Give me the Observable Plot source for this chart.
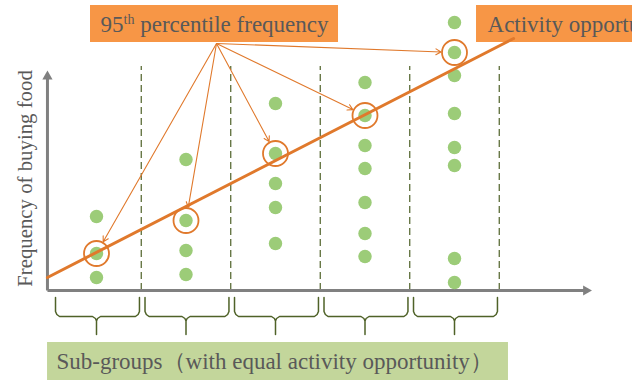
<!DOCTYPE html>
<html>
<head>
<meta charset="utf-8">
<script src="https://cdn.jsdelivr.net/npm/d3@7"></script>
<script src="https://cdn.jsdelivr.net/npm/@observablehq/plot@0.6"></script>
<style>
  html, body { margin: 0; padding: 0; background: #ffffff; }
  #chart svg { display: block; }
  #chart svg text { font-family: "Liberation Serif", "DejaVu Serif", serif !important; }
</style>
</head>
<body>
<div id="chart"></div>
<script>
// ---- data (schematic units: x = activity-opportunity sub-group, y = frequency of buying food)
const groups = [1, 2, 3, 4, 5];
const frequencies = [
  [2.96, 1.48, 0.52],
  [5.24, 2.8, 1.6, 0.64],
  [7.48, 5.48, 4.28, 3.32, 1.88],
  [8.32, 7.0, 5.8, 4.88, 3.52, 2.28, 1.36],
  [10.72, 9.52, 8.6, 7.08, 5.72, 5.0, 1.28, 0.32]
];
const percentile95 = [1.48, 2.8, 5.48, 7.0, 9.52];
const trendX = [0.452, 5.66];
const trendY = [0.52, 10.08];
const groupBoundaries = [1.5, 2.5, 3.5, 4.5, 5.5];
const labelTop = "95th percentile frequency";
const labelRight = "Activity opportunity";
const labelBottom = "Sub-groups（with equal activity opportunity）";
const labelY = "Frequency of buying food";

// ---- styles
const ORANGE_BOX = "#f79646";
const ORANGE_LINE = "#e0792c";
const GREEN_DOT = "#9ccc78";
const GREEN_BOX = "#c3d69b";
const OLIVE = "#4f6228";
const AXIS = "#808080";
const TEXT = "#595959";
const SERIF = "Liberation Serif, DejaVu Serif, serif";

// ---- derived tables
const points = groups.flatMap((g, i) => frequencies[i].map(f => ({g, f})));
const highlights = groups.map((g, i) => ({g, f: percentile95[i]}));
const trend = trendX.map((x, i) => ({x, y: trendY[i]}));
const source = {g: 2.341, f: 9.88};
const arrows = highlights.map(d => ({x1: source.g, y1: source.f, x2: d.g, y2: d.f}));

// brace geometry per sub-group
const braces = groups.flatMap(g => {
  const L = g - 0.458, R = g + 0.48, C = g;
  const pts = [
    [L, -0.28], [L, -0.84], [L + 0.015, -0.96], [L + 0.045, -1.04],
    [C - 0.045, -1.04], [C - 0.012, -1.12], [C, -1.22], [C, -1.76],
    [C, -1.22], [C + 0.012, -1.12], [C + 0.045, -1.04],
    [R - 0.045, -1.04], [R - 0.015, -0.96], [R, -0.84], [R, -0.28]
  ];
  return pts.map(([x, y]) => ({g, x, y}));
});

const chart = Plot.plot({
  width: 632,
  height: 380,
  margin: 0,
  x: {domain: [0, 7], range: [6.5, 633], axis: null},
  y: {domain: [0, 10], range: [290, 40], axis: null},
  style: {background: "#ffffff", fontFamily: SERIF},
  marks: [
    // label boxes
    Plot.rect([{x1: 0.933, x2: 3.704, y1: 9.92, y2: 11.4}], {x1: "x1", x2: "x2", y1: "y1", y2: "y2", fill: ORANGE_BOX}),
    Plot.rect([{x1: 5.246, x2: 7.2, y1: 9.92, y2: 11.4}], {x1: "x1", x2: "x2", y1: "y1", y2: "y2", fill: ORANGE_BOX}),
    Plot.rect([{x1: 0.453, x2: 5.603, y1: -2.08, y2: -3.7}], {x1: "x1", x2: "x2", y1: "y1", y2: "y2", fill: GREEN_BOX}),
    // dashed sub-group boundaries
    Plot.ruleX(groupBoundaries, {x: d => d, y1: 0, y2: 8.96, stroke: OLIVE, strokeWidth: 1.2, strokeDasharray: "7,4"}),
    // axes
    Plot.link([{x1: 0.452, y1: 0, x2: 6.45, y2: 0}, {x1: 0.452, y1: 0, x2: 0.452, y2: 8.5}],
      {x1: "x1", y1: "y1", x2: "x2", y2: "y2", stroke: AXIS, strokeWidth: 3}),
    Plot.dot([{x: 6.47, y: 0, r: 90}, {x: 0.452, y: 8.56, r: 0}],
      {x: "x", y: "y", symbol: "triangle", r: 3.8, rotate: "r", fill: AXIS, stroke: "none"}),
    // points
    Plot.dot(points, {x: "g", y: "f", r: 6.7, fill: GREEN_DOT, stroke: "none"}),
    // trend line of 95th percentile
    Plot.line(trend, {x: "x", y: "y", stroke: ORANGE_LINE, strokeWidth: 3}),
    // highlight circles
    Plot.dot(highlights, {x: "g", y: "f", r: 12.5, stroke: ORANGE_LINE, strokeWidth: 1.8, fill: "none"}),
    // callout arrows
    Plot.arrow(arrows, {x1: "x1", y1: "y1", x2: "x2", y2: "y2", insetEnd: 13.5, headLength: 8, stroke: ORANGE_LINE, strokeWidth: 1.1}),
    // braces
    Plot.line(braces, {x: "x", y: "y", z: "g", stroke: OLIVE, strokeWidth: 1.5, curve: "linear"}),
    // texts
    Plot.text([labelTop], {x: 1.045, y: 10.64, text: d => d, textAnchor: "start", fontSize: 23, fill: TEXT, fontFamily: SERIF}),
    Plot.text([labelRight], {x: 5.369, y: 10.64, text: d => d, textAnchor: "start", fontSize: 23, fill: TEXT, fontFamily: SERIF}),
    Plot.text([labelBottom], {x: 0.553, y: -2.86, text: d => d, textAnchor: "start", fontSize: 23, fill: TEXT, fontFamily: SERIF}),
    Plot.text([labelY], {x: 0.207, y: 4.48, text: d => d, rotate: -90, textAnchor: "middle", fontSize: 20.8, fill: TEXT, fontFamily: SERIF})
  ]
});

// superscript "th" in the top label
d3.select(chart).selectAll("text").each(function() {
  if (this.textContent === labelTop) {
    const t = d3.select(this);
    t.text(null);
    t.append("tspan").text("95");
    t.append("tspan").attr("font-size", 14).attr("dy", -8).text("th");
    t.append("tspan").attr("dy", 8).text(" percentile frequency");
  }
});

document.getElementById("chart").appendChild(chart);
</script>
</body>
</html>
